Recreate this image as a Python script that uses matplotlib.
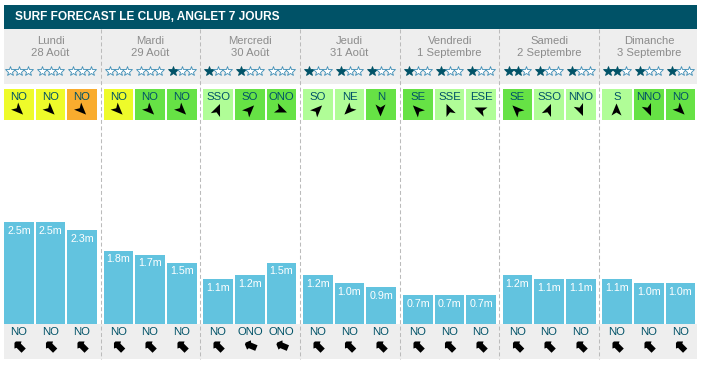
import numpy as np
import matplotlib
matplotlib.use('Agg')
import matplotlib.pyplot as plt

plt.rcParams['font.family'] = ['Liberation Sans', 'DejaVu Sans']

title = 'SURF FORECAST LE CLUB, ANGLET 7 JOURS'
jours = ['Lundi', 'Mardi', 'Mercredi', 'Jeudi', 'Vendredi', 'Samedi', 'Dimanche']
dates = ['28 Août', '29 Août', '30 Août', '31 Août', '1 Septembre', '2 Septembre', '3 Septembre']

# 3 creneaux par jour
etoiles = [0, 0, 0, 0, 0, 1, 1, 1, 0, 1, 1, 1, 1, 1, 1, 2, 1, 1, 2, 1, 1]
vent = ['NO', 'NO', 'NO', 'NO', 'NO', 'NO', 'SSO', 'SO', 'ONO', 'SO', 'NE', 'N',
        'SE', 'SSE', 'ESE', 'SE', 'SSO', 'NNO', 'S', 'NNO', 'NO']
force = ['j', 'j', 'o', 'j', 'v', 'v', 'c', 'v', 'v', 'c', 'c', 'v',
         'v', 'c', 'c', 'v', 'c', 'c', 'c', 'v', 'v']
hauteur = [2.5, 2.5, 2.3, 1.8, 1.7, 1.5, 1.1, 1.2, 1.5, 1.2, 1.0, 0.9,
           0.7, 0.7, 0.7, 1.2, 1.1, 1.1, 1.1, 1.0, 1.0]
houle = ['NO', 'NO', 'NO', 'NO', 'NO', 'NO', 'NO', 'ONO', 'ONO', 'NO', 'NO', 'NO',
         'NO', 'NO', 'NO', 'NO', 'NO', 'NO', 'NO', 'NO', 'NO']

couleurs = {'j': '#EEFB2A', 'o': '#F9AC2E', 'v': '#66E245', 'c': '#B0FD97'}
caps = {'N': 0, 'NNE': 22.5, 'NE': 45, 'ENE': 67.5, 'E': 90, 'ESE': 112.5, 'SE': 135, 'SSE': 157.5,
        'S': 180, 'SSO': 202.5, 'SO': 225, 'OSO': 247.5, 'O': 270, 'ONO': 292.5, 'NO': 315, 'NNO': 337.5}

# bords gauches des colonnes, en pixels
gauche = [4, 36, 67, 104, 135, 167, 203, 235, 267, 303, 335, 366,
          403, 435, 466, 503, 534, 566, 602, 634, 666]
largeur = [30, 29, 30, 29, 30, 30, 30, 30, 29, 30, 29, 30,
           30, 29, 30, 29, 30, 30, 30, 30, 29]
sep = [100.5, 199.5, 299.5, 399.5, 499, 598.5]
centres = [np.mean(gauche[i * 3:i * 3 + 3]) + 15 for i in range(7)]
x = np.array(gauche) + np.array(largeur) / 2

W, H = 701, 365
fig = plt.figure(figsize=(W / 100, H / 100), dpi=100)
ax = fig.add_axes([0, 0, 1, 1])
ax.set_xlim(0, W)
ax.set_ylim(H, 0)
ax.axis('off')

dark = '#005267'
gris = '#EEEEEE'
ax.fill_between([4, 697], 5, 29, color=dark, lw=0)
ax.fill_between([4, 697], 29, 84, color=gris, lw=0)
ax.fill_between([4, 697], 324, 359, color=gris, lw=0)
ax.vlines(sep, 29, 359, color='#bbbbbb', lw=0.75, linestyle=(0, (3.8, 2.4)))

ax.text(15, 17.5, title, color='white', fontsize=8.58, fontweight='bold', va='center')
for c, j, d in zip(centres, jours, dates):
    ax.text(c, 40.5, j, color='#8c8c8c', fontsize=8.1, ha='center', va='center')
    ax.text(c, 52.5, d, color='#8c8c8c', fontsize=8.1, ha='center', va='center')


def rotation(pts, cap):
    # y vers le bas dans ces axes
    a = np.radians(cap)
    pts = np.array(pts, dtype=float)
    return np.c_[pts[:, 0] * np.cos(a) - pts[:, 1] * np.sin(a),
                 -(pts[:, 0] * np.sin(a) + pts[:, 1] * np.cos(a))]


fleche = [(0, 6.5), (5, -5.5), (0, -2.5), (-5, -5.5)]
bloc = [(-1, 4), (1, 4), (5, 0), (3, -1), (3, -8), (-3, -8), (-3, -1), (-5, 0)]

for i in range(21):
    ax.fill_between([gauche[i], gauche[i] + largeur[i]], 89, 120, color=couleurs[force[i]], lw=0)
    ax.text(x[i], 97, vent[i], color=dark, fontsize=8.2, ha='center', va='center')
    # tete vers ou va le vent
    p = rotation(fleche, -(caps[vent[i]] + 180)) + [x[i] - 0.5, 110]
    ax.fill(p[:, 0], p[:, 1], color='black', lw=0)

    ax.text(x[i], 332, houle[i], color=dark, fontsize=8.2, ha='center', va='center')
    p = rotation(bloc, -caps[houle[i]]) + [x[i] - 1, 345]
    ax.fill(p[:, 0], p[:, 1], color='black', lw=0)

    for k in range(3):
        plein = k < etoiles[i]
        ax.plot(x[i] + (k - 1) * 8.6, 71, marker='*', ms=7, mew=0.6,
                mfc=dark if plein else 'white', mec=dark if plein else '#3d8db5')

# barres en metres
ax2 = fig.add_axes([0, (H - 324) / H, 1, 204 / H])
ax2.set_xlim(0, W)
ax2.set_ylim(0, 5)
ax2.axis('off')
ax2.patch.set_alpha(0)
ax2.bar(x, hauteur, width=largeur, color='#62C3DF', lw=0)
for xi, h in zip(x, hauteur):
    ax2.annotate(f'{h:.1f}m', (xi, h), xytext=(0, -8.7), textcoords='offset pixels',
                 color='white', fontsize=7.7, ha='center', va='center')

fig.savefig('out.png', dpi=100)
